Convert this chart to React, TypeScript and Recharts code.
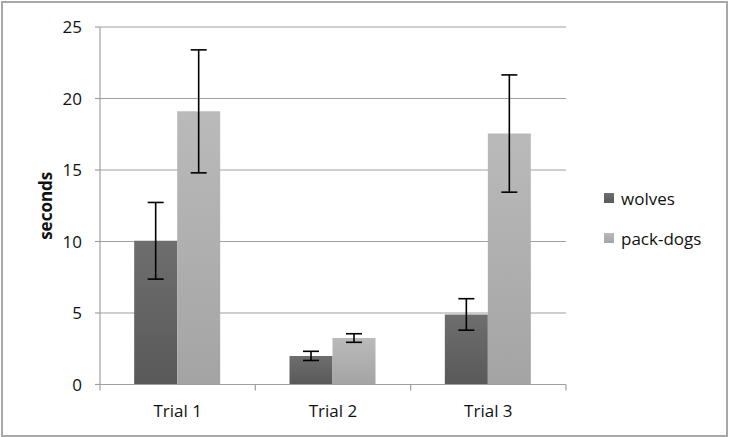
import React from 'react';
import { BarChart, Bar, XAxis, YAxis, CartesianGrid, ErrorBar, Label } from 'recharts';

const categories = ['Trial 1', 'Trial 2', 'Trial 3'];
const wolves = [10.05, 2.0, 4.9];
const wolvesErr = [2.68, 0.32, 1.1];
const packDogs = [19.1, 3.25, 17.55];
const packDogsErr = [4.3, 0.3, 4.1];
const yTicks = [0, 5, 10, 15, 20, 25];
const seriesNames = ['wolves', 'pack-dogs'];

const data = categories.map((c, i) => ({
  name: c,
  wolves: wolves[i],
  wolvesErr: wolvesErr[i],
  packDogs: packDogs[i],
  packDogsErr: packDogsErr[i],
}));

const FONT = '"Open Sans", "DejaVu Sans", sans-serif';
const AXIS = '#a0a0a0';

const XTick = (props: any) => {
  const { x, y, payload, width, visibleTicksCount, index } = props;
  const band = width / visibleTicksCount;
  const axisY = y - 8;
  return (
    <g>
      <line x1={x - band / 2} x2={x - band / 2} y1={axisY} y2={axisY + 6} stroke={AXIS} strokeWidth={1.2} />
      {index === visibleTicksCount - 1 && (
        <line x1={x + band / 2} x2={x + band / 2} y1={axisY} y2={axisY + 6} stroke={AXIS} strokeWidth={1.2} />
      )}
      <text x={x} y={y} dy={24} textAnchor="middle" fill="#111" fontSize={17} fontFamily={FONT}>
        {payload.value}
      </text>
    </g>
  );
};

const YLabel = (props: any) => {
  const { viewBox } = props;
  const cx = viewBox.x + 5;
  const cy = viewBox.y + viewBox.height / 2;
  return (
    <text
      x={cx}
      y={cy}
      transform={`rotate(-90, ${cx}, ${cy})`}
      textAnchor="middle"
      dominantBaseline="central"
      fontSize={17}
      fontWeight="bold"
      fontFamily={FONT}
      fill="#111"
    >
      seconds
    </text>
  );
};

export default function App() {
  return (
    <div style={{ position: 'absolute', left: 0, top: 0, width: 731, height: 437, background: '#fff' }}>
      <div
        style={{
          position: 'absolute',
          left: 1,
          top: 1,
          width: 727,
          height: 436,
          boxSizing: 'border-box',
          border: '2px solid #a8a8a8',
        }}
      />
      <div style={{ position: 'absolute', left: 0, top: 0 }}>
        <BarChart
          width={731}
          height={437}
          data={data}
          margin={{ top: 27, right: 165, bottom: 22.5, left: 40 }}
          barCategoryGap="22%"
          barGap={0}
        >
          <defs>
            <linearGradient id="gWolves" x1="0" y1="0" x2="0" y2="1">
              <stop offset="0%" stopColor="#6e6e6e" />
              <stop offset="100%" stopColor="#595959" />
            </linearGradient>
            <linearGradient id="gDogs" x1="0" y1="0" x2="0" y2="1">
              <stop offset="0%" stopColor="#bababa" />
              <stop offset="100%" stopColor="#a4a4a4" />
            </linearGradient>
          </defs>
          <CartesianGrid vertical={false} stroke={AXIS} strokeWidth={1.2} />
          <XAxis
            dataKey="name"
            height={30}
            stroke={AXIS}
            axisLine={{ stroke: AXIS, strokeWidth: 1.2 }}
            tickLine={false}
            tickSize={6}
            tickMargin={2}
            tick={<XTick />}
            interval={0}
          />
          <YAxis
            width={60}
            domain={[0, 25]}
            ticks={yTicks}
            interval={0}
            axisLine={{ stroke: AXIS, strokeWidth: 1.2 }}
            tickLine={{ stroke: AXIS, strokeWidth: 1.2 }}
            tickSize={5}
            tickMargin={13}
            tick={{ fill: '#111', fontSize: 17, fontFamily: FONT }}
          >
            <Label content={<YLabel />} />
          </YAxis>
          <Bar dataKey="wolves" name={seriesNames[0]} fill="url(#gWolves)" isAnimationActive={false}>
            <ErrorBar dataKey="wolvesErr" direction="y" width={8} stroke="#000" strokeWidth={1.6} isAnimationActive={false} />
          </Bar>
          <Bar dataKey="packDogs" name={seriesNames[1]} fill="url(#gDogs)" isAnimationActive={false}>
            <ErrorBar dataKey="packDogsErr" direction="y" width={8} stroke="#000" strokeWidth={1.6} isAnimationActive={false} />
          </Bar>
        </BarChart>
      </div>
      {seriesNames.map((n, i) => (
        <div
          key={n}
          style={{
            position: 'absolute',
            left: 604,
            top: 188 + i * 40,
            height: 20,
            display: 'flex',
            alignItems: 'center',
            fontFamily: FONT,
            fontSize: 17,
            color: '#111',
            whiteSpace: 'nowrap',
          }}
        >
          <span
            style={{
              display: 'inline-block',
              width: 10,
              height: 10,
              marginRight: 7,
              background: i === 0 ? 'linear-gradient(#6e6e6e, #595959)' : 'linear-gradient(#bababa, #a4a4a4)',
            }}
          />
          {n}
        </div>
      ))}
    </div>
  );
}
